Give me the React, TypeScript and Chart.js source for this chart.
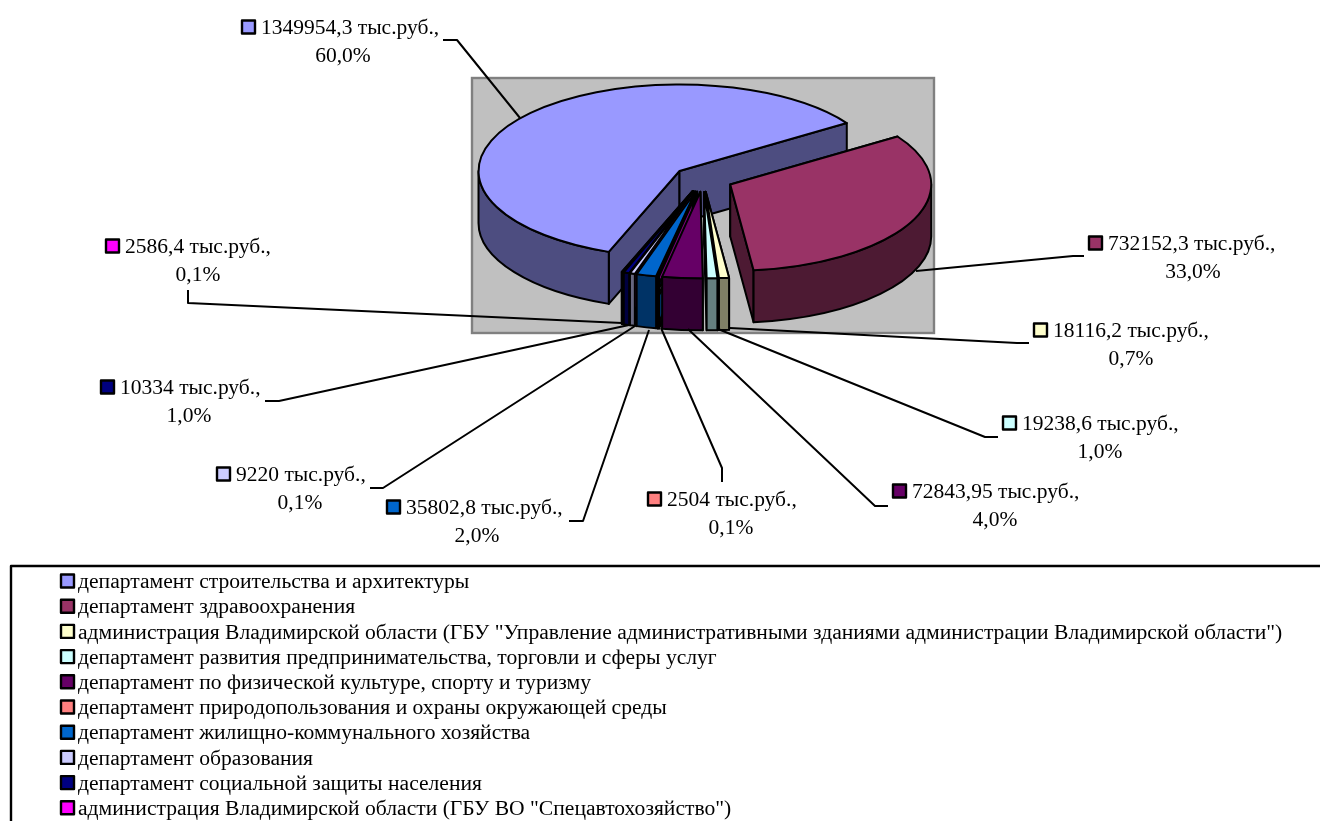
import React, { useEffect, useRef } from "react";
import { Chart, registerables } from "chart.js";

Chart.register(...registerables);

const categories = [
  "департамент строительства и архитектуры",
  "департамент здравоохранения",
  "администрация Владимирской области (ГБУ \"Управление административными зданиями администрации Владимирской области\")",
  "департамент развития предпринимательства, торговли и сферы услуг",
  "департамент по физической культуре, спорту и туризму",
  "департамент природопользования и охраны окружающей среды",
  "департамент жилищно-коммунального хозяйства",
  "департамент образования",
  "департамент социальной защиты населения",
  "администрация Владимирской области (ГБУ ВО \"Спецавтохозяйство\")",
];
const values = [1349954.3, 732152.3, 18116.2, 19238.6, 72843.95, 2504, 35802.8, 9220, 10334, 2586.4];
const valueLabels = [
  "1349954,3 тыс.руб.,", "732152,3 тыс.руб.,", "18116,2 тыс.руб.,", "19238,6 тыс.руб.,", "72843,95 тыс.руб.,",
  "2504 тыс.руб.,", "35802,8 тыс.руб.,", "9220 тыс.руб.,", "10334 тыс.руб.,", "2586,4 тыс.руб.,",
];
const percentLabels = ["60,0%", "33,0%", "0,7%", "1,0%", "4,0%", "0,1%", "2,0%", "0,1%", "1,0%", "0,1%"];
const topColors = ["#9999FF", "#993366", "#FFFFCC", "#CCFFFF", "#660066", "#FF8080", "#0066CC", "#CCCCFF", "#000080", "#FF00FF"];
const wallColors = ["#4D4D80", "#4D1A33", "#808066", "#668080", "#330033", "#804040", "#003366", "#666680", "#000040", "#800080"];

// layout of the free-standing data labels: square x, first-line centre y, percent centre x
const labelBoxX = [241, 1088, 1033, 1002, 892, 647, 386, 216, 100, 105];
const labelY = [27, 243, 330, 423, 491, 499, 507, 474, 387, 246];
const percentX = [343, 1193, 1131, 1100, 995, 731, 477, 300, 189, 198];
const leaderLines = [
  [[443, 40], [457, 40], [520, 118]],
  [[1084, 256], [1073, 256], [916, 271]],
  [[1029, 343], [1017, 343], [730, 328]],
  [[998, 437], [985, 437], [718, 329]],
  [[888, 506], [875, 506], [688, 329]],
  [[722, 482], [722, 468], [661, 328]],
  [[569, 521], [583, 521], [649, 330]],
  [[370, 488], [383, 488], [635, 326]],
  [[265, 401], [279, 401], [629, 325]],
  [[188, 290], [188, 303], [622, 323]],
];

const EXPLODE = 30;
const TILT = 0.43;
const PIE_Y = 179;
const DEPTH = 52;
const RADIUS = 201;
const FONT = '"Liberation Serif"';
const LABEL_FONT = 21.5;
const LEGEND_FONT = 21.6;

function box(ctx: CanvasRenderingContext2D, x: number, cy: number, color: string) {
  ctx.fillStyle = color;
  ctx.strokeStyle = "#000";
  ctx.lineWidth = 2.4;
  ctx.fillRect(x + 1, cy - 6.5, 13, 13);
  ctx.strokeRect(x + 1, cy - 6.5, 13, 13);
}

const pie3d = {
  id: "pie3d",
  afterDatasetsUpdate(chart: any) {
    chart.getDatasetMeta(0).data.forEach((a: any) => {
      const mid = (a.startAngle + a.endAngle) / 2;
      a.x += Math.cos(mid) * EXPLODE;
      a.y += Math.sin(mid) * EXPLODE;
    });
  },
  beforeDatasetDraw(chart: any) {
    const ctx: CanvasRenderingContext2D = chart.ctx;
    const area = chart.chartArea;
    const cy = (area.top + area.bottom) / 2;
    const sy = (y: number) => PIE_Y + (y - cy) * TILT;
    ctx.save();
    ctx.fillStyle = "#C0C0C0";
    ctx.strokeStyle = "#808080";
    ctx.lineWidth = 2.4;
    ctx.fillRect(area.left, area.top, area.right - area.left, area.bottom - area.top);
    ctx.strokeRect(area.left, area.top, area.right - area.left, area.bottom - area.top);

    const arcs = chart.getDatasetMeta(0).data;
    ctx.lineWidth = 2;
    ctx.lineJoin = "round";
    ctx.strokeStyle = "#000";
    // radial walls
    arcs.forEach((a: any, i: number) => {
      [a.startAngle, a.endAngle].forEach((t: number) => {
        const px = a.x + RADIUS * Math.cos(t);
        const py = sy(a.y) + RADIUS * TILT * Math.sin(t);
        ctx.beginPath();
        ctx.moveTo(a.x, sy(a.y));
        ctx.lineTo(px, py);
        ctx.lineTo(px, py + DEPTH);
        ctx.lineTo(a.x, sy(a.y) + DEPTH);
        ctx.closePath();
        ctx.fillStyle = wallColors[i];
        ctx.fill();
        ctx.stroke();
      });
    });
    // outer walls (front half of each rim only)
    arcs.forEach((a: any, i: number) => {
      for (let k = -1; k <= 1; k++) {
        const s = Math.max(a.startAngle, 2 * Math.PI * k);
        const e = Math.min(a.endAngle, Math.PI + 2 * Math.PI * k);
        if (e <= s) continue;
        const ay = sy(a.y);
        ctx.beginPath();
        ctx.ellipse(a.x, ay, RADIUS, RADIUS * TILT, 0, s, e);
        ctx.ellipse(a.x, ay + DEPTH, RADIUS, RADIUS * TILT, 0, e, s, true);
        ctx.closePath();
        ctx.fillStyle = wallColors[i];
        ctx.fill();
        ctx.stroke();
      }
    });
    ctx.restore();
    // tops are drawn by the library, flattened
    ctx.save();
    ctx.translate(0, PIE_Y);
    ctx.scale(1, TILT);
    ctx.translate(0, -cy);
  },
  afterDatasetDraw(chart: any) {
    const ctx: CanvasRenderingContext2D = chart.ctx;
    ctx.restore();
    const area = chart.chartArea;
    const cy = (area.top + area.bottom) / 2;
    const sy = (y: number) => PIE_Y + (y - cy) * TILT;
    const arcs = chart.getDatasetMeta(0).data;
    ctx.save();
    ctx.lineWidth = 2;
    ctx.lineJoin = "round";
    ctx.strokeStyle = "#000";
    arcs.forEach((a: any) => {
      const ay = sy(a.y);
      ctx.beginPath();
      ctx.moveTo(a.x, ay);
      ctx.ellipse(a.x, ay, RADIUS, RADIUS * TILT, 0, a.startAngle, a.endAngle);
      ctx.closePath();
      ctx.stroke();
    });

    // leader lines
    leaderLines.forEach((pts) => {
      ctx.beginPath();
      pts.forEach(([x, y], j) => (j ? ctx.lineTo(x, y) : ctx.moveTo(x, y)));
      ctx.stroke();
    });

    // data labels
    ctx.textBaseline = "middle";
    ctx.font = `${LABEL_FONT}px ${FONT}`;
    valueLabels.forEach((txt, i) => {
      box(ctx, labelBoxX[i], labelY[i], topColors[i]);
      ctx.fillStyle = "#000";
      ctx.textAlign = "left";
      ctx.fillText(txt, labelBoxX[i] + 20, labelY[i] + 1);
      ctx.textAlign = "center";
      ctx.fillText(percentLabels[i], percentX[i], labelY[i] + 29);
    });

    // legend
    ctx.strokeStyle = "#000";
    ctx.lineWidth = 2.4;
    ctx.beginPath();
    ctx.moveTo(11, 825);
    ctx.lineTo(11, 566);
    ctx.lineTo(1325, 566);
    ctx.stroke();
    ctx.font = `${LEGEND_FONT}px ${FONT}`;
    ctx.textAlign = "left";
    chart.data.labels.forEach((txt: string, i: number) => {
      const y = 581 + i * 25.2;
      box(ctx, 60, y, topColors[i]);
      ctx.fillStyle = "#000";
      ctx.fillText(txt, 78, y + 1.5);
    });
    ctx.restore();
  },
};

export default function App() {
  const ref = useRef<HTMLCanvasElement | null>(null);
  useEffect(() => {
    if (!ref.current) return;
    const chart = new Chart(ref.current, {
      type: "pie",
      data: {
        labels: categories,
        datasets: [{ data: values, backgroundColor: topColors, borderWidth: 0, clip: false } as any],
      },
      options: {
        responsive: false,
        animation: false,
        rotation: 200.6,
        radius: RADIUS,
        layout: { padding: { left: 472, top: 78, right: 386, bottom: 488 } },
        plugins: { legend: { display: false }, tooltip: { enabled: false } },
      },
      plugins: [pie3d],
    } as any);
    return () => chart.destroy();
  }, []);
  return <canvas ref={ref} width={1320} height={821} style={{ position: "absolute", left: 0, top: 0, display: "block" }} />;
}
